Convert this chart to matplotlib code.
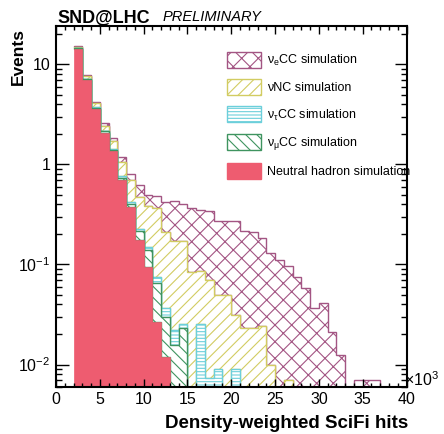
#!/usr/bin/env python3
"""SND@LHC preliminary: density-weighted SciFi hits, stacked simulation."""
import numpy as np
import matplotlib

matplotlib.use("Agg")
import matplotlib.pyplot as plt
import matplotlib.patches as mpatches
from matplotlib.ticker import MultipleLocator, FixedLocator, FixedFormatter

# bins of width 1 (x10^3 hits), first bin starts at 2
BIN_LO = 2

# events per bin, one list per sample (bins 2..36)
neutral_hadron = [14.4, 7.0, 3.6, 2.07, 1.36, 0.70, 0.376, 0.176, 0.094, 0.0266, 0.0119,
                  0, 0, 0, 0, 0, 0, 0, 0, 0, 0, 0, 0, 0, 0, 0, 0, 0, 0, 0, 0, 0, 0, 0, 0]
numu_cc = [0.2, 0.15, 0.1, 0.08, 0.04, 0.04, 0.024, 0.039, 0.046, 0.038, 0.018, 0.0157, 0.0232,
           0, 0, 0, 0, 0, 0, 0, 0, 0, 0, 0, 0, 0, 0, 0, 0, 0, 0, 0, 0, 0, 0]
nutau_cc = [0.05, 0.05, 0.02, 0.02, 0.02, 0.03, 0.025, 0.011, 0.010, 0.0105, 0.0067, 0.0064,
            0.0022, 0, 0.0254, 0.0074, 0.009, 0, 0.009,
            0, 0, 0, 0, 0, 0, 0, 0, 0, 0, 0, 0, 0, 0, 0, 0]
nu_nc = [0.35, 0.4, 0.38, 0.28, 0.28, 0.30, 0.275, 0.244, 0.23, 0.2945, 0.173, 0.148, 0.145,
         0.085, 0.06, 0.0626, 0.040, 0.049, 0.022, 0.023, 0.023, 0.0245, 0.0098, 0, 0.007,
         0, 0, 0, 0, 0, 0, 0, 0, 0, 0]
nue_cc = [0.3, 0.2, 0.1, 0.13, 0.13, 0.11, 0.10, 0.15, 0.11, 0.11, 0.21, 0.26, 0.23, 0.285,
          0.265, 0.275, 0.226, 0.226, 0.244, 0.192, 0.187, 0.1585, 0.12, 0.112, 0.089, 0.0757,
          0.058, 0.0367, 0.041, 0.0213, 0.0125, 0, 0.007, 0.007, 0.007]

labels = [
    "Neutral hadron simulation",
    r"ν$_{\mathregular{\mu}}$CC simulation",
    r"ν$_{\mathregular{\tau}}$CC simulation",
    "νNC simulation",
    r"ν$_{\mathregular{e}}$CC simulation",
]
colors = ["#EE5C70", "#3F9460", "#6CCFDB", "#D2CC62", "#A35583"]
hatches = [None, "\\\\\\", "-----", "///", "xx"]

X_TICKS = [0, 5, 10, 15, 20, 25, 30, 35, 40]
Y_TICKS = [0.01, 0.1, 1, 10]
Y_TICK_LABELS = [r"$10^{-2}$", r"$10^{-1}$", "1", "10"]

plt.rcParams["font.family"] = ["Liberation Sans", "DejaVu Sans"]
plt.rcParams["mathtext.fontset"] = "custom"
plt.rcParams["mathtext.rm"] = "Liberation Sans"
plt.rcParams["mathtext.it"] = "Liberation Sans:italic"
plt.rcParams["mathtext.bf"] = "Liberation Sans:bold"
plt.rcParams["hatch.linewidth"] = 0.8

W, H = 444, 434
fig = plt.figure(figsize=(W / 100, H / 100), dpi=100)
ax = fig.add_axes([56 / W, 1 - 386.7 / H, 350.5 / W, 361 / H])
ax.set_yscale("log")

samples = [neutral_hadron, numu_cc, nutau_cc, nu_nc, nue_cc]
n = len(neutral_hadron)
edges = np.arange(BIN_LO, BIN_LO + n + 1)
floor = 1e-4
tops = np.maximum(np.cumsum(np.array(samples, dtype=float), axis=0), floor)

# draw the largest stack first so each lower outline sits on top
for i in reversed(range(len(samples))):
    base = tops[i - 1] if i > 0 else np.full(n, floor)
    if hatches[i] is None:
        ax.stairs(tops[i], edges, baseline=base, fill=True, facecolor=colors[i],
                  edgecolor=colors[i], linewidth=0.5)
    else:
        ax.stairs(tops[i], edges, baseline=base, fill=True, facecolor="white",
                  edgecolor=colors[i], hatch=hatches[i], linewidth=1.0)

ax.set_xlim(0, 40)
ax.set_ylim(0.006, 24.4)
ax.xaxis.set_major_locator(FixedLocator(X_TICKS))
ax.xaxis.set_minor_locator(MultipleLocator(1))
ax.yaxis.set_major_locator(FixedLocator(Y_TICKS))
ax.yaxis.set_major_formatter(FixedFormatter(Y_TICK_LABELS))
ax.tick_params(which="both", direction="in", top=True, right=True, width=1, labelsize=11.5)
ax.tick_params(axis="x", which="major", length=6, pad=4)
ax.tick_params(axis="x", which="minor", length=3)
ax.tick_params(axis="y", which="major", length=9, pad=4)
ax.tick_params(axis="y", which="minor", length=4.5)
for sp in ax.spines.values():
    sp.set_linewidth(1.5)

handles = []
for i in reversed(range(len(samples))):
    if hatches[i] is None:
        handles.append(mpatches.Patch(facecolor=colors[i], edgecolor=colors[i], label=labels[i]))
    else:
        handles.append(mpatches.Patch(facecolor="white", edgecolor=colors[i], hatch=hatches[i],
                                      linewidth=1.0, label=labels[i]))
leg = ax.legend(handles=handles, loc="upper left", bbox_to_anchor=(227 / W, 1 - 52 / H),
                bbox_transform=fig.transFigure, frameon=False, fontsize=9, borderpad=0,
                handlelength=2.72, handleheight=1.6, labelspacing=0.88, handletextpad=0.48,
                borderaxespad=0)
leg.set_zorder(2)

fig.text(57 / W, 1 - 22.5 / H, "SND@LHC", fontsize=13, fontweight="bold", va="baseline")
fig.text(163 / W, 1 - 21 / H, "PRELIMINARY", fontsize=10.5, style="italic", va="baseline")
fig.text(18.5 / W, 1 - 28 / H, "Events", rotation=90, ha="center", va="top",
         fontsize=12.5, fontweight="bold")
fig.text(408 / W, 1 - 428 / H, "Density-weighted SciFi hits", ha="right", va="baseline",
         fontsize=13.5, fontweight="bold")
fig.text(404 / W, 1 - 386 / H, r"$\times$10$^{3}$", ha="left", va="baseline", fontsize=11.5)

fig.savefig("out.png", dpi=100)
